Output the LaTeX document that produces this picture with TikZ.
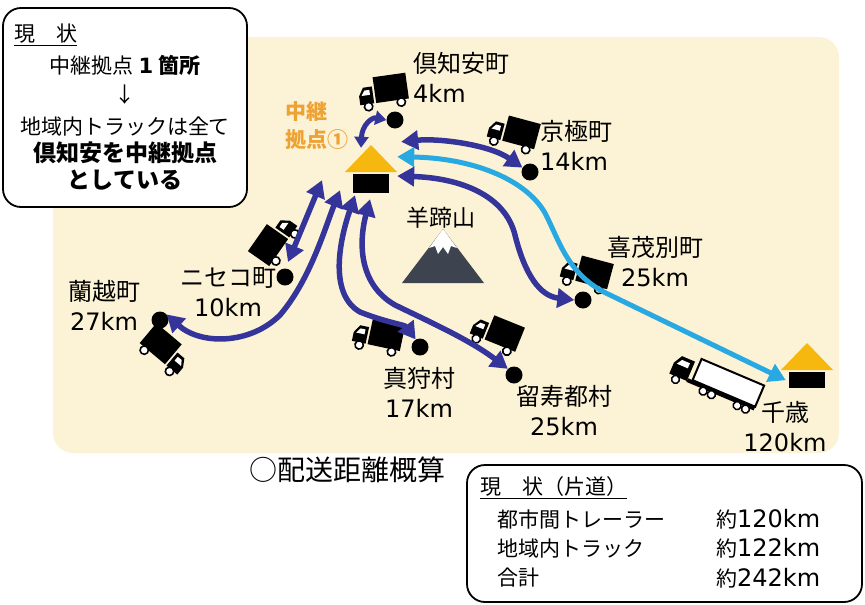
\documentclass[tikz,border=0pt]{standalone}
\usepackage{fontspec}
\setmainfont{Noto Sans CJK JP}
\newfontfamily\lat{DejaVu Sans}
\usetikzlibrary{arrows.meta}

\definecolor{mapbg}{HTML}{FCF3D6}
\definecolor{routeblue}{HTML}{35349A}
\definecolor{trailerblue}{HTML}{29A9E1}
\definecolor{roof}{HTML}{F6B70F}
\definecolor{hubtext}{HTML}{EFA234}
\definecolor{mountain}{HTML}{3D4450}

% small box truck, cab on the left
\tikzset{
  truck/.pic={
    \fill (-8,-18) rectangle (25,8);
    \fill (-24,8) -- (-24,-1) -- (-19,-9) -- (-10,-9) -- (-10,8) -- cycle;
    \fill[white] (-21.5,-1) -- (-18,-6) -- (-13,-6) -- (-13,-1) -- cycle;
    \draw[line width=1.6pt, fill=white] (-16,10.5) circle (4.2pt) (17,10.5) circle (4.2pt);
  },
  trailer/.pic={
    \fill (-29,6) rectangle (44,10);
    \draw[line width=2pt, fill=white] (-24,-17) rectangle (44,6);
    \fill (-48,9) -- (-48,-3) -- (-43,-12) -- (-29,-12) -- (-29,9) -- cycle;
    \fill[white] (-45,-3) -- (-41.5,-8.5) -- (-33,-8.5) -- (-33,-3) -- cycle;
    \draw[line width=1.5pt, fill=white] (-40,12) circle (4pt) (-10,12) circle (4pt)
      (-1,12) circle (4pt) (27,12) circle (4pt) (36,12) circle (4pt);
  }
}

\begin{document}
\begin{tikzpicture}[x=1pt, y=-1pt,
    route/.style={draw=routeblue, line width=5.5pt, >={Triangle[length=17pt,width=19pt]}, <->},
    trailer route/.style={route, draw=trailerblue, line width=5pt},
    stop/.style={circle, fill=black, minimum size=17pt, inner sep=0pt},
    place/.style={align=center, inner sep=0pt, font=\fontsize{24}{30}\selectfont},
    depot/.style={minimum width=52pt, minimum height=48pt, inner sep=0pt,
      path picture={
        \fill[roof] (path picture bounding box.north)
          -- ([yshift=-27pt]path picture bounding box.north east)
          -- ([yshift=-27pt]path picture bounding box.north west) -- cycle;
        \fill ([xshift=-18pt,yshift=-29pt]path picture bounding box.north)
          rectangle ([xshift=18pt]path picture bounding box.south);
      }},
    note/.style={draw, line width=1.8pt, rounded corners=18pt, fill=white},
    boxtext/.style={inner sep=0pt, font=\fontsize{21}{24}\selectfont},
    boldtext/.style={inner sep=0pt, font=\bfseries\fontsize{23}{26}\selectfont}]
  \useasboundingbox (0,0) rectangle (865,605);

  % map area
  \fill[mapbg, rounded corners=20pt] (53,37) rectangle (839,453);

  % Mt. Yotei
  \fill[mountain] (443,229) -- (484,283) -- (402,283) -- cycle;
  \fill[white] (443,229) -- (457,248) -- (451,246) -- (448,254) -- (443,247)
    -- (438,254) -- (435,246) -- (429,248) -- cycle;
  \node[inner sep=0pt, font=\fontsize{23}{26}\selectfont] (yotei) at (441,218) {羊蹄山};

  % trucks
  \pic[rotate=8] at (383,94) {truck};
  \pic[rotate=-15] at (512,135) {truck};
  \pic[rotate=-15] at (585,275) {truck};
  \pic[rotate=55, xscale=-1] at (277,241) {truck};
  \pic[rotate=-40, xscale=-1] at (164,353) {truck};
  \pic[rotate=-12] at (377,338) {truck};
  \pic[rotate=-22] at (495,335) {truck};
  \pic[rotate=-23] at (717,384) {trailer};

  % relay points
  \node[depot] (hub) at (371,169) {};
  \node[depot, minimum height=45pt] (chitose) at (807,365.5) {};
  \node[anchor=west, align=left, inner sep=0pt, text=hubtext,
    font=\bfseries\fontsize{21}{28}\selectfont] (relay) at (285,126) {中継\\拠点①};

  % delivery points
  \node[stop] (kutchan) at (395,120) {};
  \node[stop] (kyogoku) at (530,172) {};
  \node[stop] (kimobetsu) at (583,300) {};
  \node[stop] (niseko) at (285,277) {};
  \node[stop] (rankoshi) at (160,320) {};
  \node[stop] (makkari) at (420,347) {};
  \node[stop] (rusutsu) at (514,375) {};

  % routes
  \draw[route, line width=5pt, >={Triangle[length=11pt,width=14pt]}]
    ([shift={(-10,3)}]hub.north) .. controls (362,125) and (372,117) .. (kutchan.west);
  \draw[route] ([shift={(4,-3)}]hub.north east) .. controls (440,138) and (490,145) .. (kyogoku.150);
  \draw[trailer route] (hub.25) .. controls (470,158) and (525,178) .. (545,213)
    .. controls (560,242) and (568,276) .. (610,295) -- ([shift={(5,-8)}]chitose.south west);
  \draw[route] (hub.-15) .. controls (460,178) and (505,195) .. (515,235)
    .. controls (525,275) and (540,296) .. (kimobetsu.west);
  \draw[route] ([shift={(3,-15)}]niseko.center) -- ([shift={(-49,-13)}]hub.south);
  \draw[route] ([shift={(-31,-3)}]hub.south) .. controls (325,228) and (310,280) .. (280,315)
    .. controls (250,345) and (200,345) .. (rankoshi.40);
  \draw[route] ([shift={(-16,2)}]hub.south) .. controls (338,245) and (330,295) .. (360,312)
    .. controls (385,322) and (405,325) .. (makkari.120);
  \draw[route] ([shift={(-1,6)}]hub.south) .. controls (358,245) and (360,285) .. (395,305)
    .. controls (430,322) and (470,340) .. (rusutsu.135);

  % place names and distances
  \node[place, anchor=west, align=left] (kutchan label) at (413,77) {倶知安町\\{\lat 4km}};
  \node[place, anchor=west, align=left] (kyogoku label) at (540,145) {京極町\\{\lat 14km}};
  \node[place] (kimobetsu label) at (655,262) {喜茂別町\\{\lat 25km}};
  \node[place] (niseko label) at (228,292) {ニセコ町\\{\lat 10km}};
  \node[place] (rankoshi label) at (104,305) {蘭越町\\{\lat 27km}};
  \node[place] (makkari label) at (419,392) {真狩村\\{\lat 17km}};
  \node[place] (rusutsu label) at (564,411) {留寿都村\\{\lat 25km}};
  \node[place] (chitose label) at (785,427) {千歳\\{\lat 120km}};

  % current situation note
  \draw[note] (3,8) rectangle (247,207);
  \node[boxtext, anchor=west] (status) at (14,35) {\underline{現　状}};
  \node[boxtext] (count) at (125,65) {中継拠点 \textbf{{\lat 1} 箇所}};
  \node[boxtext] (down) at (125,95) {↓};
  \node[boxtext] (local) at (125,127) {地域内トラックは全て};
  \node[boldtext] (relay1) at (125,153) {倶知安を中継拠点};
  \node[boldtext] (relay2) at (125,180) {としている};

  % distance estimate
  \node[inner sep=0pt, font=\fontsize{28}{32}\selectfont] (estimate) at (347,470) {○配送距離概算};
  \draw[note] (467,465) rectangle (862,602);
  \node[boxtext, anchor=west] (oneway) at (480,488) {\underline{現　状（片道）}};
  \foreach \what/\dist [count=\i] in {都市間トレーラー/120, 地域内トラック/122, 合計/242}
  {
    \node[boxtext, anchor=west] (row\i) at (497,489.5+29.5*\i) {\what};
    \node[boxtext, anchor=west] (dist\i) at (716,489.5+29.5*\i)
      {約{\lat\fontsize{24}{26}\selectfont \dist km}};
  }
\end{tikzpicture}
\end{document}
